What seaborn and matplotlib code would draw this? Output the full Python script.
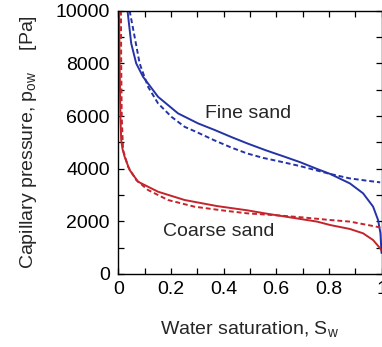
import matplotlib
matplotlib.use("Agg")
import matplotlib.pyplot as plt
from matplotlib.ticker import MultipleLocator
import seaborn as sns
import pandas as pd

# Data
fine_solid_s = [0.035, 0.049, 0.068, 0.094, 0.151, 0.227, 0.303, 0.366, 0.43, 0.49, 0.56, 0.63, 0.69,
                0.755, 0.805, 0.88, 0.93, 0.968, 0.987, 0.996, 1.0]
fine_solid_p = [10000, 8760, 8000, 7490, 6730, 6100, 5720, 5470, 5200, 4960, 4700, 4460, 4250,
                3990, 3800, 3440, 3065, 2560, 2050, 1545, 800]

fine_dash_s = [0.043, 0.062, 0.081, 0.113, 0.151, 0.202, 0.252, 0.30, 0.362, 0.43, 0.489, 0.55,
               0.615, 0.69, 0.755, 0.805, 0.88, 0.94, 0.995]
fine_dash_p = [10000, 9010, 8000, 7110, 6480, 5970, 5590, 5380, 5090, 4800, 4580, 4410,
               4270, 4100, 3930, 3800, 3630, 3550, 3480]

coarse_solid_s = [0.003, 0.005, 0.008, 0.011, 0.016, 0.024, 0.043, 0.075, 0.151, 0.252, 0.375, 0.489,
                  0.565, 0.66, 0.755, 0.805, 0.88, 0.93, 0.968, 0.995, 1.0]
coarse_solid_p = [10000, 8000, 6000, 5090, 4750, 4455, 3950, 3505, 3125, 2810, 2580, 2420,
                  2290, 2140, 1990, 1860, 1710, 1545, 1290, 975, 900]

coarse_dash_s = [0.010, 0.011, 0.013, 0.018, 0.037, 0.068, 0.113, 0.189, 0.29, 0.404, 0.489, 0.60,
                 0.70, 0.805, 0.88, 0.995]
coarse_dash_p = [10000, 8000, 6000, 4710, 4075, 3570, 3190, 2810, 2555, 2405, 2305, 2230,
                 2150, 2050, 1990, 1770]

x_ticks = [0, 0.2, 0.4, 0.6, 0.8, 1]
x_tick_labels = ["0", "0.2", "0.4", "0.6", "0.8", "1"]
y_ticks = [0, 2000, 4000, 6000, 8000, 10000]

BLUE = "#2433a6"
RED = "#c4242b"

sns.set_style("ticks")
plt.rcParams["font.family"] = ["Liberation Sans", "DejaVu Sans"]
plt.rcParams["mathtext.default"] = "regular"

fig = plt.figure(figsize=(3.82, 3.47), dpi=100)
ax = fig.add_axes([118.3 / 382, 1 - 274 / 347, (381.5 - 118.3) / 382, (274 - 10.7) / 347])

series = [
    (fine_solid_s, fine_solid_p, BLUE, "-"),
    (fine_dash_s, fine_dash_p, BLUE, "--"),
    (coarse_solid_s, coarse_solid_p, RED, "-"),
    (coarse_dash_s, coarse_dash_p, RED, "--"),
]
for s, p, c, ls in series:
    df = pd.DataFrame({"S": s, "P": p})
    sns.lineplot(data=df, x="S", y="P", ax=ax, color=c, linewidth=1.4,
                 sort=False, estimator=None)
    l = ax.lines[-1]
    l.set_solid_joinstyle("round")
    if ls == "--":
        l.set_dashes((2.5, 1.5))

ax.set_xlim(0, 1)
ax.set_ylim(0, 10000)
ax.set_xticks(x_ticks)
ax.set_xticklabels(x_tick_labels)
ax.set_yticks(y_ticks)
ax.xaxis.set_minor_locator(MultipleLocator(0.1))
ax.yaxis.set_minor_locator(MultipleLocator(1000))
ax.tick_params(which="both", direction="in", top=True, right=True, length=4,
               width=0.9, labelsize=14, colors="black")
ax.tick_params(axis="y", pad=6)
ax.tick_params(axis="x", pad=5)
for sp in ax.spines.values():
    sp.set_linewidth(1.0)
    sp.set_color("black")

ax.set_xlabel("Water saturation, S$_{w}$", fontsize=14, labelpad=15)
ax.set_ylabel("Capillary pressure, p$_{ow}$    [Pa]", fontsize=14, labelpad=12)

ax.text(0.33, 6080, "Fine sand", fontsize=14, ha="left", va="center")
ax.text(0.171, 1600, "Coarse sand", fontsize=14, ha="left", va="center")

fig.savefig("out.png", dpi=100)
